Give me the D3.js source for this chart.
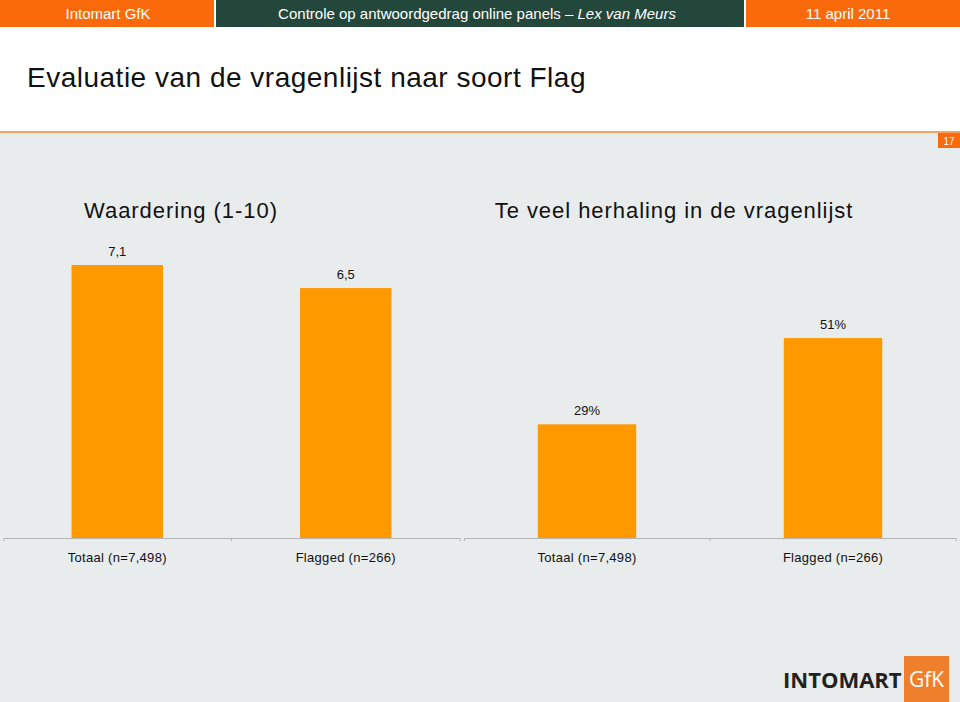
<!DOCTYPE html>
<html>
<head>
<meta charset="utf-8">
<script src="https://cdn.jsdelivr.net/npm/d3@7"></script>
<style>
  body { margin: 0; background: #fff; }
  svg { display: block; font-family: "Liberation Sans", Arial, sans-serif; }
  .axis path, .axis line { stroke: #b4b4b4; }
  .axis text { font-size: 13px; fill: #111; letter-spacing: 0.3px; }
</style>
</head>
<body>
<div id="chart"></div>
<script>
// chart data
const categories = ['Totaal (n=7,498)', 'Flagged (n=266)'];
const waardering = [7.1, 6.5];
const herhaling = [29, 51];
const panelTitles = ['Waardering (1-10)', 'Te veel herhaling in de vragenlijst'];
const headerTexts = ['Intomart GfK', 'Controle op antwoordgedrag online panels – ', 'Lex van Meurs', '11 april 2011'];
const slideTitle = 'Evaluatie van de vragenlijst naar soort Flag';
const pageNumber = '17';

const width = 960;
const height = 702;
const barColor = '#ff9900';
const baseY = 538;

const svg = d3.select('#chart').append('svg')
  .attr('width', width)
  .attr('height', height);

// background: white header zone, grey content zone
svg.append('rect').attr('width', width).attr('height', height).attr('fill', '#fff');
svg.append('rect').attr('y', 132).attr('width', width).attr('height', height - 132).attr('fill', '#e9ecec');
svg.append('line').attr('x1', 0).attr('x2', width).attr('y1', 132).attr('y2', 132)
  .attr('stroke', '#f4a261').attr('stroke-width', 2);

// top banner
const banner = [
  { x: 0, w: 214, fill: '#fb6a0a' },
  { x: 216, w: 528, fill: '#23473a' },
  { x: 746, w: 214, fill: '#fb6a0a' }
];
svg.selectAll('rect.banner').data(banner).join('rect')
  .attr('class', 'banner')
  .attr('x', (d) => d.x).attr('y', 0)
  .attr('width', (d) => d.w).attr('height', 27)
  .attr('fill', (d) => d.fill);

svg.append('text').attr('x', 108).attr('y', 19).attr('text-anchor', 'middle')
  .attr('fill', '#fff').style('font-size', '15px').text(headerTexts[0]);
const mid = svg.append('text').attr('x', 477).attr('y', 19).attr('text-anchor', 'middle')
  .attr('fill', '#fff').style('font-size', '15px');
mid.append('tspan').text(headerTexts[1]);
mid.append('tspan').style('font-style', 'italic').text(headerTexts[2]);
svg.append('text').attr('x', 848).attr('y', 19).attr('text-anchor', 'middle')
  .attr('fill', '#fff').style('font-size', '15px').text(headerTexts[3]);

// slide title
svg.append('text').attr('x', 27).attr('y', 87)
  .style('font-size', '28px').style('letter-spacing', '0.5px').attr('fill', '#111')
  .text(slideTitle);

// page number
svg.append('rect').attr('x', 938).attr('y', 133).attr('width', 22).attr('height', 15).attr('fill', '#fb6a0a');
svg.append('text').attr('x', 949).attr('y', 145).attr('text-anchor', 'middle')
  .attr('fill', '#fff').style('font-size', '10px').text(pageNumber);

// one bar panel
function drawPanel(values, x0, x1, pxPerUnit, title, titleX, fmt) {
  const x = d3.scaleBand().domain(categories).range([x0, x1]).paddingInner(0).paddingOuter(0);
  const maxVal = (baseY - 154) / pxPerUnit;
  const y = d3.scaleLinear().domain([0, maxVal]).range([baseY, 154]);
  const g = svg.append('g');

  g.append('text').attr('x', titleX).attr('y', 218).attr('text-anchor', 'middle')
    .style('font-size', '22px').style('letter-spacing', '0.95px').attr('fill', '#111')
    .text(title);

  const rows = categories.map((c, i) => ({ cat: c, value: values[i] }));
  const bw = x.bandwidth() * 0.4;

  g.selectAll('rect').data(rows).join('rect')
    .attr('x', (d) => x(d.cat) + (x.bandwidth() - bw) / 2)
    .attr('y', (d) => y(d.value))
    .attr('width', bw)
    .attr('height', (d) => baseY - y(d.value))
    .attr('fill', barColor);

  g.selectAll('text.val').data(rows).join('text')
    .attr('class', 'val')
    .attr('x', (d) => x(d.cat) + x.bandwidth() / 2)
    .attr('y', (d) => y(d.value) - 9)
    .attr('text-anchor', 'middle')
    .style('font-size', '13px').attr('fill', '#111')
    .text((d) => fmt(d.value));

  const axis = g.append('g').attr('class', 'axis')
    .attr('transform', `translate(0,${baseY})`)
    .call(d3.axisBottom(x).tickSize(0).tickSizeOuter(3));
  axis.selectAll('.tick text').attr('y', 15).attr('dy', '0.71em');
  // divider tick between categories
  axis.append('line')
    .attr('x1', x(categories[1])).attr('x2', x(categories[1]))
    .attr('y1', 0).attr('y2', 3);
}

const fmtComma = (v) => d3.format('.1f')(v).replace('.', ',');
drawPanel(waardering, 3, 460, 38.45, panelTitles[0], 181, fmtComma);
drawPanel(herhaling, 464, 956, 3.92, panelTitles[1], 674, (v) => v + '%');

// logo
svg.append('text').attr('x', 783).attr('y', 688)
  .style('font-family', '"Open Sans", "Liberation Sans", sans-serif')
  .style('font-size', '22px').style('font-weight', 'bold').attr('fill', '#222')
  .text('INTOMART');
svg.append('rect').attr('x', 904).attr('y', 656).attr('width', 45).attr('height', 46).attr('fill', '#f07f2d');
svg.append('text').attr('x', 926.5).attr('y', 687).attr('text-anchor', 'middle')
  .style('font-family', '"Open Sans", "Liberation Sans", sans-serif')
  .style('font-size', '21px').attr('fill', '#fff')
  .text('GfK');
</script>
</body>
</html>
